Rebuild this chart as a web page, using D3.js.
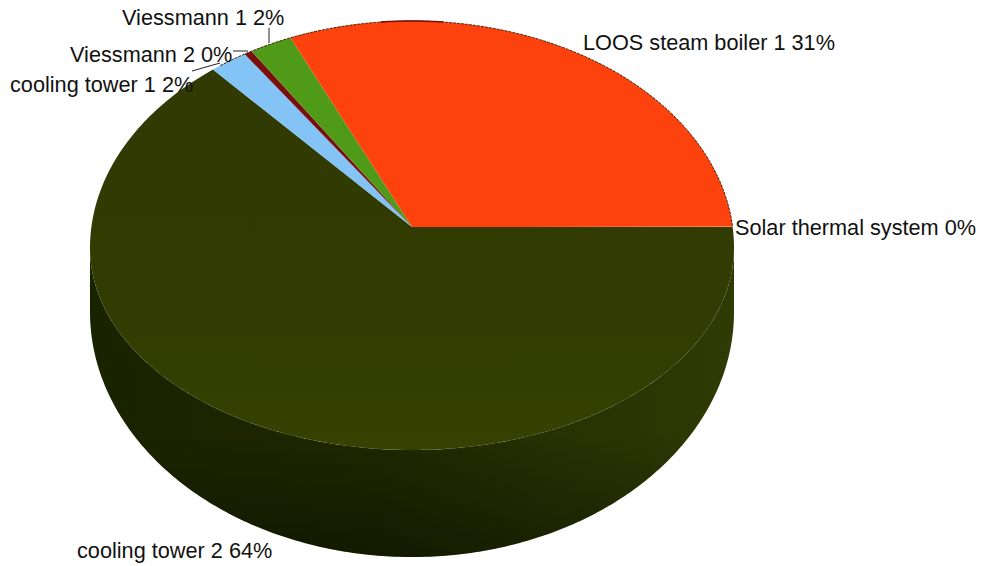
<!DOCTYPE html>
<html><head><meta charset="utf-8">
<script src="https://cdn.jsdelivr.net/npm/d3@7/dist/d3.min.js"></script>
<style>html,body{margin:0;background:#fff}svg{display:block}text{font-family:"Liberation Sans",Arial,sans-serif;fill:#111}</style>
</head><body><svg id="c" width="981" height="566"></svg>
<script>
const categories = ["cooling tower 2","cooling tower 1","Viessmann 2","Viessmann 1","LOOS steam boiler 1","Solar thermal system"];
const shares = [64.2,2.0,0.42,2.2,31.2,0.02];
const percentLabels = ["64%","2%","0%","2%","31%","0%"];
const sliceColors = ["url(#topDark)","#83c3f5","#7a0f10","#4f9a17","#fd420e","#e8d44d"];
const labelAnchors = [[77,558],[10,92],[70,62],[122,25],[583,50],[735,235]];
const leaders = [null,[[192,71],[220,63]],[[233,51],[248,51]],[[269,28],[269,43]],null,null];

const svg = d3.select("#c");
const cx=412, apexY=227, rx=322;
const dirUp=206, dirDown=223;            // foreshortening of the rays from the apex
const rimY=248, rimUp=227, rimDown=202;  // rim ellipse (perspective)
const baseY=312, baseRy=245;             // lower face of the disc
const pie = d3.pie().sort(null).value(d=>d).startAngle(Math.PI/2).endAngle(Math.PI/2+2*Math.PI);
const arcs = pie(shares);

// intersect a ray from the apex with the rim ellipse
function hit(dx,dy,ry){
  const oy=apexY-rimY, A=dx*dx/(rx*rx)+dy*dy/(ry*ry), B=2*oy*dy/(ry*ry), C=oy*oy/(ry*ry)-1;
  const t=(-B+Math.sqrt(B*B-4*A*C))/(2*A);
  return [cx+dx*t, apexY+dy*t];
}
function rim(a){
  const dx=rx*Math.sin(a), c=Math.cos(a), dy=-c*(c>0?dirUp:dirDown);
  const p=hit(dx,dy,rimUp);
  return p[1]<=rimY ? p : hit(dx,dy,rimDown);
}
const line=d3.line();
function angles(a0,a1){ return d3.range(0,1.0001,1/Math.max(2,Math.ceil((a1-a0)*80))).map(t=>a0+(a1-a0)*t); }

const defs=svg.append("defs");
function grad(id,vertical,stops){
  const g=defs.append("linearGradient").attr("id",id);
  if(vertical) g.attr("x1",0).attr("x2",0).attr("y1",0).attr("y2",1);
  stops.forEach(s=>g.append("stop").attr("offset",s[0]).attr("stop-color",s[1]).attr("stop-opacity",s[2]===undefined?1:s[2]));
}
grad("sideH",false,[[0,"#1a2300"],[0.45,"#1e2700"],[0.75,"#283203"],[1,"#303a04"]]);
grad("sideV",true,[[0,"#000",0],[0.6,"#000",0],[1,"#000",0.35]]);
grad("topDark",true,[[0,"#303a02"],[0.6,"#313b02"],[1,"#364102"]]);

// side wall: lower half of rim ellipse + lower half of base ellipse
const t=d3.range(0,Math.PI+0.001,Math.PI/240);
const side=t.map(u=>[cx+rx*Math.cos(u),rimY+rimDown*Math.sin(u)])
  .concat(t.slice().reverse().map(u=>[cx+rx*Math.cos(u),baseY+baseRy*Math.sin(u)]));
const sidePath=line(side)+"Z";
svg.append("path").attr("d",sidePath).attr("fill","url(#sideH)");
svg.append("path").attr("d",sidePath).attr("fill","url(#sideV)");

// top slices
svg.append("g").selectAll("path").data(arcs).join("path")
  .attr("d",d=>line([[cx,apexY]].concat(angles(d.startAngle,d.endAngle).map(rim)))+"Z")
  .attr("fill",(d,i)=>sliceColors[i]);
// dark dashed rim on the back half, maroon crest on top
svg.append("path").attr("d",line(angles(-0.65,Math.PI/2).map(rim))).attr("fill","none").attr("stroke","#4a2208").attr("stroke-width",1).attr("stroke-dasharray","3 1");
svg.append("path").attr("d",line(angles(-0.098,0.098).map(rim))).attr("fill","none").attr("stroke","#7a1208").attr("stroke-width",1.5);

// leaders
svg.append("g").selectAll("path").data(leaders.filter(Boolean)).join("path")
  .attr("d",d=>line(d)).attr("stroke","#222").attr("stroke-width",1).attr("fill","none");

// labels
svg.append("g").selectAll("text").data(categories).join("text")
  .attr("x",(d,i)=>labelAnchors[i][0]).attr("y",(d,i)=>labelAnchors[i][1])
  .attr("font-size",21.7).text((d,i)=>d+" "+percentLabels[i]);
</script></body></html>
